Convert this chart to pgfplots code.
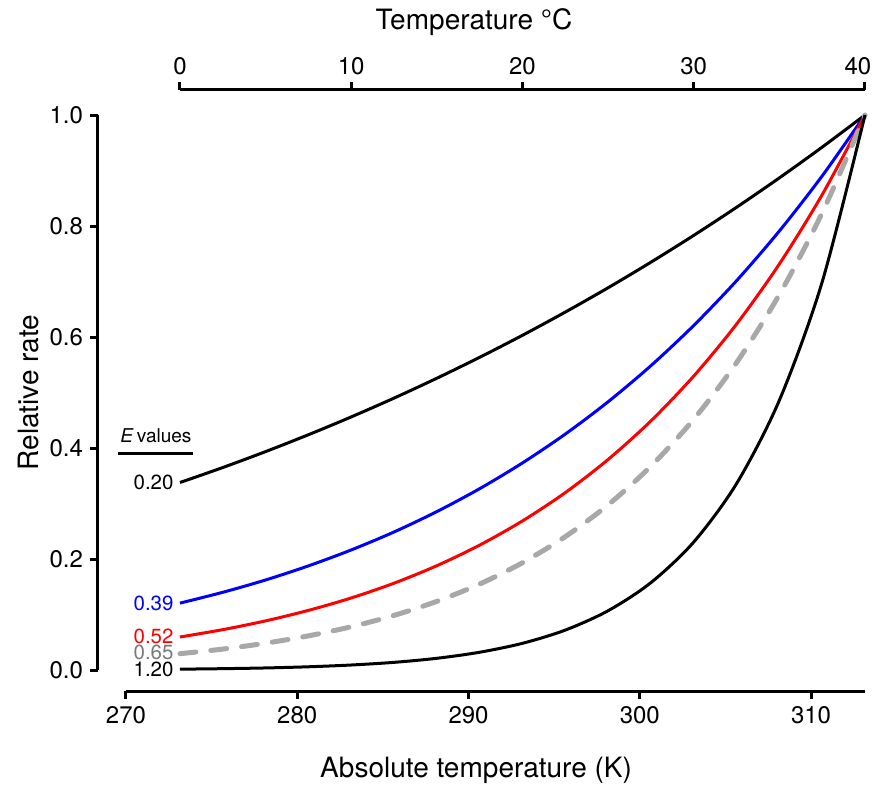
\documentclass[border=0pt]{standalone}
\usepackage{fontspec}
\setmainfont{TeX Gyre Heros}
\usepackage{pgfplots}
\pgfplotsset{compat=1.18}

\definecolor{dashgray}{RGB}{168,168,168}
\definecolor{labgray}{RGB}{120,120,120}

\pgfplotsset{
  myaxis/.style={
    scale only axis,
    clip=false,
    separate axis lines,
    axis line style={line width=1.5pt,-},
    tick align=outside,
    major tick length=4pt,
    tick style={line width=1.5pt,black},
    ticklabel style={font=\fontsize{12}{14}\selectfont},
    /pgf/number format/assume math mode=true,
  },
  curve/.style={line width=1.5pt,smooth},
}

\begin{document}
\begin{tikzpicture}
\begin{axis}[
  myaxis,
  name=main,
  width=369.5pt, height=277.5pt,
  xmin=270, xmax=313.15, ymin=0, ymax=1,
  axis x line*=bottom, axis y line*=left,
  axis x line shift=10.5pt, axis y line shift=14pt,
  xtick={270,280,290,300,310},
  ytick={0,0.2,0.4,0.6,0.8,1},
  yticklabel style={/pgf/number format/.cd,fixed,fixed zerofill,precision=1},
]
% E = 0.20
\addplot[black,curve] coordinates {
(273.15,0.3378)(275.65,0.3648)(278.15,0.3935)(280.65,0.4239)(283.15,0.4560)
(285.65,0.4899)(288.15,0.5257)(290.65,0.5634)(293.15,0.6031)(295.65,0.6449)
(298.15,0.6887)(300.65,0.7348)(303.15,0.7831)(305.65,0.8337)(308.15,0.8867)
(310.65,0.9421)(313.15,1.0)};
% E = 0.39
\addplot[blue,curve] coordinates {
(273.15,0.1205)(275.65,0.1400)(278.15,0.1622)(280.65,0.1876)(283.15,0.2163)
(285.65,0.2487)(288.15,0.2854)(290.65,0.3267)(293.15,0.3731)(295.65,0.4251)
(298.15,0.4833)(300.65,0.5483)(303.15,0.6208)(305.65,0.7014)(308.15,0.7910)
(310.65,0.8902)(313.15,1.0)};
% E = 0.52
\addplot[red,curve] coordinates {
(273.15,0.0595)(275.65,0.0727)(278.15,0.0885)(280.65,0.1074)(283.15,0.1298)
(285.65,0.1564)(288.15,0.1879)(290.65,0.2250)(293.15,0.2686)(295.65,0.3196)
(298.15,0.3793)(300.65,0.4488)(303.15,0.5296)(305.65,0.6232)(308.15,0.7315)
(310.65,0.8564)(313.15,1.0)};
% E = 0.65
\addplot[dashgray,line width=2.5pt,smooth,line cap=round,dash pattern=on 8pt off 7.5pt] coordinates {
(273.15,0.0294)(275.65,0.0377)(278.15,0.0483)(280.65,0.0615)(283.15,0.0779)
(285.65,0.0984)(288.15,0.1237)(290.65,0.1549)(293.15,0.1933)(295.65,0.2403)
(298.15,0.2976)(300.65,0.3673)(303.15,0.4518)(305.65,0.5538)(308.15,0.6765)
(310.65,0.8238)(313.15,1.0)};
% E = 1.20
\addplot[black,curve] coordinates {
(273.15,0.0015)(275.65,0.0024)(278.15,0.0037)(280.65,0.0058)(283.15,0.0090)
(285.65,0.0138)(288.15,0.0211)(290.65,0.0320)(293.15,0.0481)(295.65,0.0719)
(298.15,0.1068)(300.65,0.1574)(303.15,0.2306)(305.65,0.3358)(308.15,0.4860)
(310.65,0.6992)(313.15,1.0)};

\begin{scope}[font=\fontsize{10.25}{12}\selectfont]
\node[anchor=east,inner sep=0pt] at ([xshift=-3pt]axis cs:273.15,0.3378) {0.20};
\node[anchor=east,inner sep=0pt,text=blue] at ([xshift=-3pt]axis cs:273.15,0.1205) {0.39};
\node[anchor=east,inner sep=0pt,text=red] at ([xshift=-3pt]axis cs:273.15,0.0600) {0.52};
\node[anchor=east,inner sep=0pt,text=labgray] at ([xshift=-3pt]axis cs:273.15,0.0310) {0.65};
\node[anchor=east,inner sep=0pt] at ([xshift=-3pt]axis cs:273.15,0.0015) {1.20};
\end{scope}
\node[font=\fontsize{9.5}{11}\selectfont] at (axis cs:271.75,0.4216) {\textit{E}\,values};
\draw[line width=1.5pt] (axis cs:269.53,0.391) -- (axis cs:273.91,0.391);

\node[font=\fontsize{14}{16}\selectfont,rotate=90] at (axis cs:264.28,0.5) {Relative rate};
\node[font=\fontsize{14}{16}\selectfont] at (axis cs:290.44,-0.180) {Absolute temperature (K)};
\node[font=\fontsize{14}{16}\selectfont] at (axis cs:290.32,1.1676) {Temperature \textdegree C};
\end{axis}

\begin{axis}[
  myaxis,
  at={(main.north east)}, anchor=north east,
  width=342.5pt, height=277.5pt,
  xmin=0, xmax=40, ymin=0, ymax=1,
  axis y line=none, axis x line*=top,
  axis x line shift=12.5pt,
  xtick={0,10,20,30,40},
  xticklabels={0,10,20,30,{\hspace*{-7pt}40}},
]
\end{axis}

\pgfresetboundingbox
\path[use as bounding box] ([xshift=-63pt,yshift=-57pt]main.south west) rectangle ([xshift=374pt,yshift=335pt]main.south west);
\end{tikzpicture}
\end{document}
